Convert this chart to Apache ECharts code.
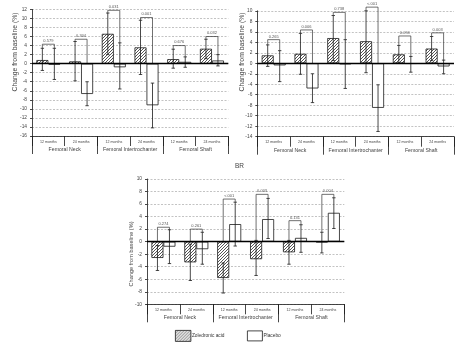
<!DOCTYPE html>
<html><head><meta charset="utf-8">
<script src="https://cdn.jsdelivr.net/npm/echarts@6/dist/echarts.min.js"></script>
<style>html,body{margin:0;padding:0;background:#fff}#chart{width:470px;height:346px}</style>
</head><body><div id="chart"></div>
<script>
// Category labels (two-level axis)
const MONTHS = ['12 months', '24 months', '12 months', '24 months', '12 months', '24 months'];
const GROUPS = ['Femoral Neck', 'Femoral Intertrochanter', 'Femoral Shaft'];
const SERIES_NAMES = ['Zoledronic acid', 'Placebo'];
const Y_TITLE = 'Change from baseline (%)';

// Top-left panel
const a_zol     = [0.8, 0.5, 6.6, 3.6, 1.0, 3.3];
const a_zolLow  = [-1.5, -3.8, 2.0, -2.4, -1.0, 1.1];
const a_zolHigh = [3.4, 4.9, 11.2, 9.6, 3.2, 5.4];
const a_pla     = [-0.2, -6.7, -0.8, -9.2, 0.4, 0.7];
const a_plaLow  = [-3.5, -9.3, -5.6, -14.2, -0.8, -0.5];
const a_plaHigh = [3.4, -4.0, 4.6, -4.3, 1.5, 2.0];
const a_brTop   = [4.3, 5.4, 11.8, 10.2, 4.0, 6.0];
const a_p       = ['0.579', '0.304', '0.031', '0.001', '0.676', '0.032'];

// Top-right panel
const b_zol     = [1.5, 1.8, 4.8, 4.2, 1.7, 2.8];
const b_zolLow  = [-0.6, -2.1, 0.5, -1.8, 0.0, 0.5];
const b_zolHigh = [3.5, 5.7, 9.1, 10.0, 3.4, 5.1];
const b_pla     = [-0.4, -4.8, -0.2, -8.5, -0.1, -0.6];
const b_plaLow  = [-3.5, -7.5, -4.8, -13.0, -1.7, -2.0];
const b_plaHigh = [2.4, -2.0, 4.5, -4.1, 1.3, 0.6];
const b_brTop   = [4.5, 6.35, 9.7, 10.7, 5.2, 5.8];
const b_p       = ['0.265', '0.006', '0.738', '<.001', '0.094', '0.003'];

// Bottom panel (BR)
const c_zol     = [-2.6, -3.3, -5.8, -2.8, -1.7, -0.1];
const c_zolLow  = [-4.6, -6.2, -8.2, -5.4, -3.6, -1.8];
const c_zolHigh = [-0.6, -0.4, -3.4, 0.2, 0.2, 1.5];
const c_pla     = [-0.8, -1.2, 2.8, 3.6, 0.6, 4.6];
const c_plaLow  = [-3.5, -3.6, -0.7, 0.5, -1.7, 2.1];
const c_plaHigh = [1.9, 1.5, 6.3, 6.9, 2.7, 7.0];
const c_brTop   = [2.3, 2.0, 6.8, 7.55, 3.35, 7.55];
const c_p       = ['0.274', '0.261', '<.001', '0.003', '0.131', '0.004'];

const FONT = 'Liberation Sans, Arial, sans-serif';
const BAR_W = 12;
const INK = '#1a1a1a';
const TXT = '#444';

function hatchPattern() {
  const c = document.createElement('canvas');
  c.width = 3; c.height = 3;
  const g = c.getContext('2d');
  g.fillStyle = '#fff'; g.fillRect(0, 0, 3, 3);
  g.strokeStyle = '#2a2a2a'; g.lineWidth = 0.8;
  g.beginPath();
  g.moveTo(0, 3); g.lineTo(3, 0);
  g.moveTo(-1, 1); g.lineTo(1, -1);
  g.moveTo(2, 4); g.lineTo(4, 2);
  g.stroke();
  return { image: c, repeat: 'repeat' };
}
const HATCH = hatchPattern();

const panels = [
  { grid: { left: 32, top: 9.4, width: 196.3, height: 126.6 }, min: -16, max: 12,
    zol: a_zol, zolLow: a_zolLow, zolHigh: a_zolHigh, pla: a_pla, plaLow: a_plaLow, plaHigh: a_plaHigh,
    brTop: a_brTop, p: a_p, title: { x: 15.5, y: 52, size: 6.8 }, monthMargin: 3.5, groupMargin: 11.4 },
  { grid: { left: 257.3, top: 10.8, width: 196.7, height: 125.9 }, min: -14, max: 10,
    zol: b_zol, zolLow: b_zolLow, zolHigh: b_zolHigh, pla: b_pla, plaLow: b_plaLow, plaHigh: b_plaHigh,
    brTop: b_brTop, p: b_p, title: { x: 242.5, y: 52, size: 6.8 }, monthMargin: 3.5, groupMargin: 11.4 },
  { grid: { left: 147, top: 179, width: 197.3, height: 125.3 }, min: -10, max: 10,
    zol: c_zol, zolLow: c_zolLow, zolHigh: c_zolHigh, pla: c_pla, plaLow: c_plaLow, plaHigh: c_plaHigh,
    brTop: c_brTop, p: c_p, title: { x: 131.7, y: 254, size: 5.6 }, monthMargin: 3.2, groupMargin: 10.7 }
];

function errorBarRenderer(side) {
  return function (params, api) {
    const i = api.value(0);
    const x = api.coord([i, 0])[0] + side * BAR_W / 2;
    const yLo = api.coord([i, api.value(1)])[1];
    const yHi = api.coord([i, api.value(2)])[1];
    const st = { stroke: INK, lineWidth: 0.8 };
    return { type: 'group', children: [
      { type: 'line', shape: { x1: x, y1: yHi, x2: x, y2: yLo }, style: st },
      { type: 'line', shape: { x1: x - 1.7, y1: yHi, x2: x + 1.7, y2: yHi }, style: st },
      { type: 'line', shape: { x1: x - 1.7, y1: yLo, x2: x + 1.7, y2: yLo }, style: st }
    ] };
  };
}

function bracketRenderer(labels) {
  return function (params, api) {
    const i = api.value(0);
    const cx = api.coord([i, 0])[0];
    const xl = cx - BAR_W / 2, xr = cx + BAR_W / 2;
    const yTop = api.coord([i, api.value(1)])[1];
    const yL = api.coord([i, api.value(2)])[1];
    const yR = api.coord([i, api.value(3)])[1];
    const st = { stroke: '#333', lineWidth: 0.7, fill: null };
    return { type: 'group', children: [
      { type: 'polyline', shape: { points: [[xl, yL], [xl, yTop], [xr, yTop], [xr, yR]] }, style: st },
      { type: 'text', x: cx, y: yTop - 1.2,
        style: { text: labels[params.dataIndex], fontSize: 4, fontFamily: FONT, fill: '#555',
                 align: 'center', verticalAlign: 'bottom' } }
    ] };
  };
}

const grids = [], xAxes = [], yAxes = [], series = [], graphics = [];
panels.forEach((P, g) => {
  grids.push(Object.assign({ containLabel: false }, P.grid));
  const axisLineStyle = { color: INK, width: 0.8 };
  xAxes.push({
    type: 'category', gridIndex: g, data: MONTHS, position: 'bottom', boundaryGap: true,
    axisLine: { show: true, onZero: false, lineStyle: axisLineStyle },
    axisTick: { show: true, interval: 0, length: 10, lineStyle: axisLineStyle },
    axisLabel: { interval: 0, fontSize: 3.6, color: TXT, margin: P.monthMargin, fontFamily: FONT },
    splitLine: { show: false }
  });
  xAxes.push({
    type: 'category', gridIndex: g, data: GROUPS, position: 'bottom', boundaryGap: true,
    axisLine: { show: false, onZero: false },
    axisTick: { show: true, interval: 0, length: 18, lineStyle: axisLineStyle },
    axisLabel: { interval: 0, fontSize: 5.2, color: TXT, margin: P.groupMargin, fontFamily: FONT },
    splitLine: { show: false }
  });
  yAxes.push({
    type: 'value', gridIndex: g, min: P.min, max: P.max, interval: 2,
    axisLine: { show: true, lineStyle: axisLineStyle },
    axisTick: { show: true, length: 2, lineStyle: axisLineStyle },
    axisLabel: { fontSize: 4.8, color: TXT, margin: 5, fontFamily: FONT },
    splitLine: { show: true, lineStyle: { color: '#9a9a9a', width: 0.6, type: [2, 1.5] } }
  });
  const xi = 2 * g;
  series.push({
    type: 'bar', name: SERIES_NAMES[0], xAxisIndex: xi, yAxisIndex: g, data: P.zol,
    barWidth: BAR_W, barGap: '0%',
    itemStyle: { color: HATCH, borderColor: INK, borderWidth: 0.8 }, z: 2
  });
  series.push({
    type: 'bar', name: SERIES_NAMES[1], xAxisIndex: xi, yAxisIndex: g, data: P.pla,
    barWidth: BAR_W, barGap: '0%',
    itemStyle: { color: '#fff', borderColor: INK, borderWidth: 0.8 }, z: 2,
    markLine: { silent: true, symbol: 'none', label: { show: false },
      lineStyle: { color: '#000', width: 1.3, type: 'solid' }, data: [{ yAxis: 0 }] }
  });
  series.push({
    type: 'custom', xAxisIndex: xi, yAxisIndex: g, z: 4, silent: true,
    renderItem: errorBarRenderer(-1), encode: { x: 0, y: [1, 2] },
    data: P.zol.map((v, i) => [i, P.zolLow[i], P.zolHigh[i]])
  });
  series.push({
    type: 'custom', xAxisIndex: xi, yAxisIndex: g, z: 4, silent: true,
    renderItem: errorBarRenderer(1), encode: { x: 0, y: [1, 2] },
    data: P.pla.map((v, i) => [i, P.plaLow[i], P.plaHigh[i]])
  });
  series.push({
    type: 'custom', xAxisIndex: xi, yAxisIndex: g, z: 4, silent: true,
    renderItem: bracketRenderer(P.p), encode: { x: 0, y: [1, 2, 3] },
    data: P.brTop.map((t, i) => [i, t, Math.max(P.zolHigh[i], 0), Math.max(P.plaHigh[i], 0)])
  });
  graphics.push({
    type: 'text', x: P.title.x, y: P.title.y, rotation: Math.PI / 2,
    style: { text: Y_TITLE, fontSize: P.title.size, fontFamily: FONT, fill: TXT,
             align: 'center', verticalAlign: 'middle' }
  });
});

const chart = echarts.init(document.getElementById('chart'), null, { renderer: 'canvas' });
chart.setOption({
  backgroundColor: '#fff',
  animation: false,
  textStyle: { fontFamily: FONT },
  title: { text: 'BR', left: 235, top: 163, padding: 0,
    textStyle: { fontSize: 6.5, color: TXT, fontWeight: 'normal', fontFamily: FONT } },
  legend: [
    { data: [SERIES_NAMES[0]], left: 175, top: 330, padding: 0, icon: 'rect', itemWidth: 15.5, itemHeight: 11,
      selectedMode: false, itemStyle: { borderColor: INK, borderWidth: 0.8 },
      textStyle: { fontSize: 4.8, color: '#333', padding: [0, 0, 0, -4] } },
    { data: [SERIES_NAMES[1]], left: 247, top: 330.5, padding: 0, icon: 'rect', itemWidth: 15, itemHeight: 10,
      selectedMode: false, itemStyle: { borderColor: INK, borderWidth: 0.8 },
      textStyle: { fontSize: 4.8, color: '#333', padding: [0, 0, 0, -4] } }
  ],
  grid: grids,
  xAxis: xAxes,
  yAxis: yAxes,
  series: series,
  graphic: graphics
});
</script></body></html>
